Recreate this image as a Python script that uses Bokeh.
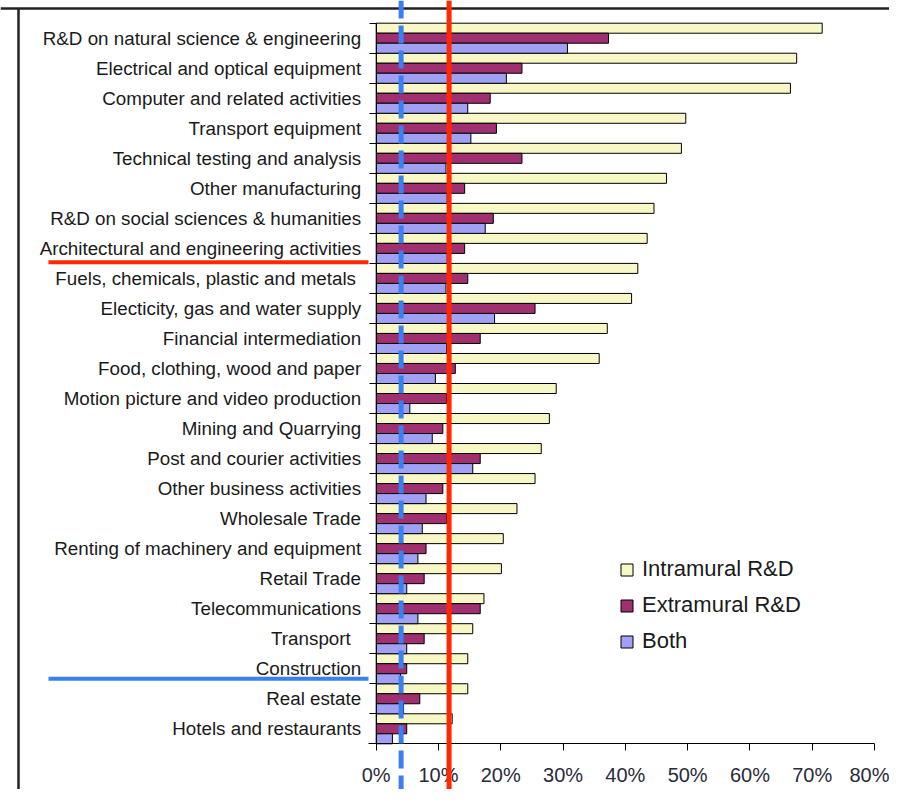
import numpy as np
from bokeh.plotting import figure
from bokeh.models import ColumnDataSource, FixedTicker, Range1d, Arrow, Span
from bokeh.transform import dodge
from bokeh.embed import file_html
from bokeh.resources import INLINE

categories = [
    "R&D on natural science & engineering",
    "Electrical and optical equipment",
    "Computer and related activities",
    "Transport equipment",
    "Technical testing and analysis",
    "Other manufacturing",
    "R&D on social sciences & humanities",
    "Architectural and engineering activities",
    "Fuels, chemicals, plastic and metals ",
    "Electicity, gas and water supply",
    "Financial intermediation",
    "Food, clothing, wood and paper",
    "Motion picture and video production",
    "Mining and Quarrying",
    "Post and courier activities",
    "Other business activities",
    "Wholesale Trade",
    "Renting of machinery and equipment",
    "Retail Trade",
    "Telecommunications",
    "Transport  ",
    "Construction",
    "Real estate",
    "Hotels and restaurants",
]
intramural = [71.6, 67.5, 66.5, 49.7, 49.0, 46.6, 44.6, 43.5, 42.0, 41.0, 37.1, 35.8,
              28.9, 27.8, 26.5, 25.5, 22.6, 20.4, 20.1, 17.3, 15.5, 14.7, 14.7, 12.2]
extramural = [37.3, 23.4, 18.3, 19.3, 23.4, 14.2, 18.8, 14.2, 14.7, 25.5, 16.7, 12.7,
              11.3, 10.7, 16.7, 10.7, 11.3, 8.0, 7.7, 16.7, 7.7, 4.9, 7.0, 4.9]
both = [30.7, 20.9, 14.7, 15.2, 11.2, 11.4, 17.5, 11.4, 11.2, 19.0, 11.3, 9.5,
        5.4, 9.0, 15.5, 8.0, 7.4, 6.7, 4.9, 6.7, 4.9, 3.9, 4.4, 2.6]
x_ticks = [0, 10, 20, 30, 40, 50, 60, 70, 80]
x_tick_labels = ["0%", "10%", "20%", "30%", "40%", "50%", "60%", "70%", "80%"]
series_names = ["Intramural R&D", "Extramural R&D", "Both"]

blue_threshold = 4.0
red_threshold = 11.7
red_marker_row = 16.04
blue_marker_row = 2.17

# ---- layout geometry (pixels) ----
W, H = 889, 789
zero_px = 375.7        # screen x of 0 %
px_per_pct = 6.229     # pixels per percentage point
top_px = 22.7          # screen y of top of first row
row_px = 30.025        # pixels per category row
n = len(categories)

x_start = -zero_px / px_per_pct
x_end = x_start + W / px_per_pct
y_end = n + top_px / row_px
y_start = y_end - H / row_px


def xd(px):
    return (px - zero_px) / px_per_pct


def yd(py):
    return y_end - py / row_px


ypos = n - np.arange(n) - 0.5
source = ColumnDataSource(dict(y=ypos, intramural=intramural, extramural=extramural, both=both))

p = figure(width=W, height=H, x_range=Range1d(x_start, x_end), y_range=Range1d(y_start, y_end),
           output_backend="svg", toolbar_location=None,
           min_border_left=0, min_border_right=0, min_border_top=0, min_border_bottom=0)
p.outline_line_color = None
p.xgrid.visible = False
p.ygrid.visible = False
p.background_fill_color = "white"
p.border_fill_color = "white"

colors = ["#F8F8C6", "#A03070", "#A0A0F4"]
cols = ["intramural", "extramural", "both"]
offsets = [1/3, 0, -1/3]
for col, c, off, name in zip(cols, colors, offsets, series_names):
    p.hbar(y=dodge("y", off), left=0, right=col, height=1/3, source=source,
           fill_color=c, line_color="black", line_width=1, legend_label=name)

# y axis (category labels), pinned at x = 0
p.yaxis.fixed_location = 0
p.yaxis.bounds = (0, n)
p.yaxis.ticker = FixedTicker(ticks=list(ypos), minor_ticks=list(range(n + 1)))
p.yaxis.major_label_overrides = {float(y): c for y, c in zip(ypos, categories)}
p.yaxis.major_tick_out = 0
p.yaxis.major_tick_in = 0
p.yaxis.minor_tick_out = 7
p.yaxis.minor_tick_in = 0
p.yaxis.minor_tick_line_color = "black"
p.yaxis.axis_line_color = "black"
p.yaxis.major_label_standoff = 8
p.yaxis.major_label_text_font = "Liberation Sans"
p.yaxis.major_label_text_font_size = "18.8px"
p.yaxis.major_label_text_color = "#1a1a1a"

# x axis pinned at y = 0
p.xaxis.fixed_location = 0
p.xaxis.bounds = (xd(368), 80)
p.xaxis.ticker = FixedTicker(ticks=x_ticks)
p.xaxis.major_label_overrides = {t: l for t, l in zip(x_ticks, x_tick_labels)}
p.xaxis.major_tick_out = 7
p.xaxis.major_tick_in = 0
p.xaxis.minor_tick_out = 0
p.xaxis.minor_tick_in = 0
p.xaxis.axis_line_color = "black"
p.xaxis.major_tick_line_color = "black"
p.xaxis.major_label_standoff = 13
p.xaxis.major_label_text_font = "Liberation Sans"
p.xaxis.major_label_text_font_size = "20px"
p.xaxis.major_label_text_color = "#2a2a3a"

# legend
lg = p.legend[0]
lg.location = (619, H - 654)
lg.border_line_alpha = 0
lg.background_fill_alpha = 0
lg.padding = 0
lg.margin = 0
lg.spacing = 10
lg.label_height = 24
lg.glyph_height = 15
lg.glyph_width = 15
lg.label_standoff = 8
lg.label_text_font = "Liberation Sans"
lg.label_text_font_size = "22px"
lg.label_text_color = "#1a1a1a"

# outer chart border (left and top edges)
p.add_layout(Arrow(end=None, x_start=xd(18), x_end=xd(18), y_start=yd(8), y_end=y_start,
                   line_color="#222222", line_width=2.5, level="underlay"))
p.add_layout(Span(location=yd(8), dimension="width", line_color="#222222", line_width=2.5,
                  level="underlay"))

# highlight lines
p.add_layout(Span(location=blue_threshold, dimension="height", line_color="#3A80F0",
                  line_width=5, line_dash="18 7"))
p.add_layout(Span(location=red_threshold, dimension="height", line_color="#FF2800", line_width=5))
p.add_layout(Arrow(end=None, x_start=xd(48), x_end=xd(368), y_start=red_marker_row, y_end=red_marker_row,
                   line_color="#FF2800", line_width=4))
p.add_layout(Arrow(end=None, x_start=xd(48), x_end=xd(368), y_start=blue_marker_row, y_end=blue_marker_row,
                   line_color="#3A80F0", line_width=4))

open("out.html", "w").write(file_html(p, INLINE))
